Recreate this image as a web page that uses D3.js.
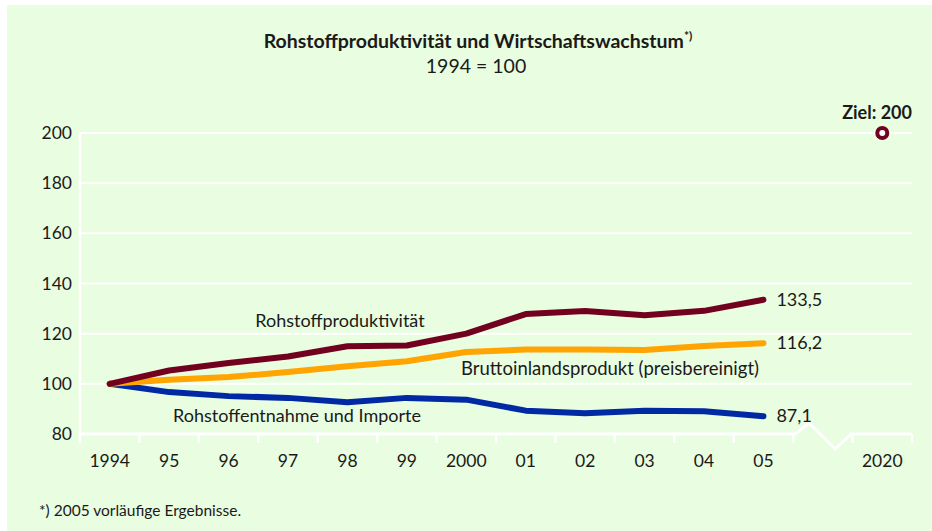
<!DOCTYPE html>
<html>
<head>
<meta charset="utf-8">
<script src="https://cdn.jsdelivr.net/npm/d3@7"></script>
<style>
  body { margin: 0; background: #fff; }
  svg { display: block; }
  text { font-family: Lato, "Open Sans", sans-serif; fill: #1a1a1a; }
</style>
</head>
<body>
<svg width="932" height="531"></svg>
<script>
// data
const years = ['1994', '95', '96', '97', '98', '99', '2000', '01', '02', '03', '04', '05']
const xCats = [...years, 'gap', '2020']
const produktivitaet = [100, 105.3, 108.3, 110.9, 115.0, 115.3, 120.0, 127.8, 129.0, 127.3, 129.1, 133.5]
const bip = [100, 101.6, 102.7, 104.7, 107.0, 109.0, 112.7, 113.7, 113.7, 113.5, 115.1, 116.2]
const rohstoffe = [100, 96.7, 95.1, 94.4, 92.7, 94.4, 93.7, 89.3, 88.3, 89.3, 89.1, 87.1]
const endLabels = ['133,5', '116,2', '87,1']
const yTicks = [80, 100, 120, 140, 160, 180, 200]
const ziel = 200

const svg = d3.select('svg')

// green panel
svg.append('rect')
   .attr('x', 7).attr('y', 5)
   .attr('width', 925).attr('height', 526)
   .attr('fill', '#e9fde0')

// scales
const x = d3.scaleBand()
   .domain(xCats)
   .range([80, 912])

const y = d3.scaleLinear()
   .domain([80, 200])
   .range([434, 133])

const cx = d => x(d) + x.bandwidth() / 2

// gridlines (not the bottom one, that is the axis with the break)
svg.append('g')
   .selectAll('line')
   .data(yTicks.filter(d => d > 80))
   .enter()
   .append('line')
   .attr('x1', 80).attr('x2', 912)
   .attr('y1', d => y(d)).attr('y2', d => y(d))
   .attr('stroke', '#fff')
   .attr('stroke-width', 2)

// y axis line
svg.append('line')
   .attr('x1', 80).attr('x2', 80)
   .attr('y1', y(200) - 1).attr('y2', y(80) + 9)
   .attr('stroke', '#fff')
   .attr('stroke-width', 2.5)

// bottom axis with zigzag break
const gap0 = x('gap')
const axisPts = [
   [80, y(80)], [gap0 + 2, y(80)], [gap0 + 16, y(80) - 11],
   [gap0 + 42, y(80) + 15], [gap0 + 58, y(80)], [912, y(80)]
]
svg.append('path')
   .attr('d', d3.line()(axisPts))
   .attr('fill', 'none')
   .attr('stroke', '#fff')
   .attr('stroke-width', 3)

// tick marks at the band edges
const tickEdges = xCats.slice(1).map(d => x(d)).concat([912])
svg.append('g')
   .selectAll('line')
   .data(tickEdges)
   .enter()
   .append('line')
   .attr('x1', d => d).attr('x2', d => d)
   .attr('y1', y(80)).attr('y2', y(80) + 9)
   .attr('stroke', '#fff')
   .attr('stroke-width', 2.5)

// y tick labels
svg.append('g')
   .selectAll('text')
   .data(yTicks)
   .enter()
   .append('text')
   .attr('x', 72)
   .attr('y', d => y(d))
   .attr('dy', '0.35em')
   .attr('text-anchor', 'end')
   .attr('font-size', 17.5)
   .text(d => d)

// x tick labels
svg.append('g')
   .selectAll('text')
   .data(xCats.filter(d => d !== 'gap'))
   .enter()
   .append('text')
   .attr('x', d => cx(d))
   .attr('y', 467)
   .attr('text-anchor', 'middle')
   .attr('font-size', 17.5)
   .text(d => d)

// lines
const series = [
   { values: rohstoffe, color: '#0029a3' },
   { values: bip, color: '#ffa400' },
   { values: produktivitaet, color: '#72001f' }
]
const line = d3.line()
   .x((d, i) => cx(years[i]))
   .y(d => y(d))

svg.append('g')
   .selectAll('path')
   .data(series)
   .enter()
   .append('path')
   .attr('d', d => line(d.values))
   .attr('fill', 'none')
   .attr('stroke', d => d.color)
   .attr('stroke-width', 6)
   .attr('stroke-linecap', 'round')
   .attr('stroke-linejoin', 'round')

// end values
const last = years.length - 1
const endVals = [produktivitaet[last], bip[last], rohstoffe[last]]
svg.append('g')
   .selectAll('text')
   .data(endVals)
   .enter()
   .append('text')
   .attr('x', cx('05') + 13)
   .attr('y', d => y(d))
   .attr('dy', '0.35em')
   .attr('font-size', 18)
   .text((d, i) => endLabels[i])

// series labels
svg.append('text')
   .attr('x', 340).attr('y', 327)
   .attr('text-anchor', 'middle')
   .attr('font-size', 18)
   .text('Rohstoffproduktivität')

svg.append('text')
   .attr('x', 759).attr('y', 375)
   .attr('text-anchor', 'end')
   .attr('font-size', 18.5)
   .text('Bruttoinlandsprodukt (preisbereinigt)')

svg.append('text')
   .attr('x', 297).attr('y', 422)
   .attr('text-anchor', 'middle')
   .attr('font-size', 18)
   .text('Rohstoffentnahme und Importe')

// target
svg.append('circle')
   .attr('cx', cx('2020'))
   .attr('cy', y(ziel))
   .attr('r', 5)
   .attr('fill', '#fff')
   .attr('stroke', '#72001f')
   .attr('stroke-width', 4)

svg.append('text')
   .attr('x', 912).attr('y', 119)
   .attr('text-anchor', 'end')
   .attr('font-size', 18)
   .attr('font-weight', 'bold')
   .text('Ziel: ' + ziel)

// titles
const title = svg.append('text')
   .attr('x', 478).attr('y', 48)
   .attr('text-anchor', 'middle')
   .attr('font-size', 19.5)
   .attr('font-weight', 'bold')
title.append('tspan').text('Rohstoffproduktivität und Wirtschaftswachstum')
title.append('tspan')
   .attr('font-size', 12)
   .attr('dy', -8)
   .text('*)')

svg.append('text')
   .attr('x', 476).attr('y', 73)
   .attr('text-anchor', 'middle')
   .attr('font-size', 19.5)
   .text('1994 = 100')

// footnote
svg.append('text')
   .attr('x', 39).attr('y', 516)
   .attr('font-size', 15.5)
   .text('*) 2005 vorläufige Ergebnisse.')
</script>
</body>
</html>
